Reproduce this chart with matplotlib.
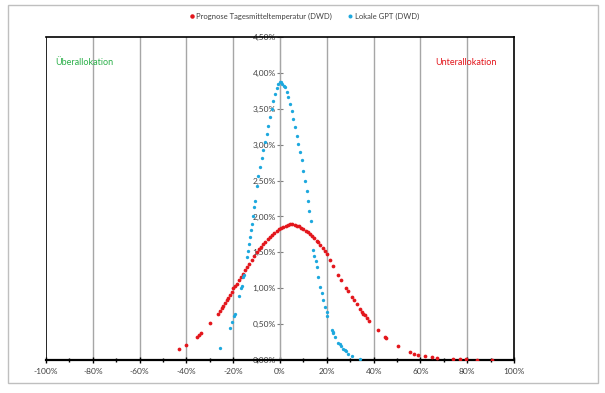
import matplotlib
matplotlib.use("Agg")
import matplotlib.pyplot as plt
from matplotlib.patches import Rectangle
from matplotlib.ticker import MultipleLocator, FuncFormatter

plt.rcParams['font.family'] = ['Lato', 'DejaVu Sans']

# Data (percent deviation vs. share in percent)
red_x = [-43.0, -40.2, -35.6, -34.6, -33.8, -29.8, -26.6, -25.6, -24.9, -24.2,
         -23.5, -22.8, -22.1, -21.4, -20.7, -20.0, -19.2, -18.5, -17.4, -16.6,
         -15.7, -14.9, -14.0, -13.1, -12.1, -11.0, -10.0, -9.0, -8.1, -7.1,
         -6.2, -5.2, -4.3, -3.3, -2.4, -1.4, -0.5, 0.5, 1.4, 2.4,
         3.3, 4.3, 5.2, 6.2, 7.1, 8.1, 9.0, 10.0, 10.9, 11.9,
         12.8, 13.8, 14.7, 15.6, 16.4, 17.3, 18.2, 19.1, 20.0, 21.4,
         22.8, 24.9, 26.1, 28.2, 29.2, 30.6, 31.6, 32.8, 34.2, 35.0,
         35.6, 36.3, 37.0, 38.2, 41.8, 44.9, 45.4, 50.6, 55.6, 57.3,
         59.1, 62.0, 64.8, 67.0, 74.1, 76.9, 79.5, 84.3, 90.5]
red_y = [0.15, 0.21, 0.32, 0.35, 0.37, 0.51, 0.64, 0.68, 0.72, 0.75,
         0.79, 0.83, 0.87, 0.91, 0.95, 1.00, 1.03, 1.06, 1.11, 1.16,
         1.20, 1.25, 1.30, 1.34, 1.39, 1.45, 1.50, 1.54, 1.58, 1.62,
         1.65, 1.68, 1.71, 1.74, 1.77, 1.80, 1.82, 1.84, 1.85, 1.87,
         1.88, 1.89, 1.89, 1.88, 1.87, 1.86, 1.84, 1.82, 1.80, 1.78,
         1.76, 1.73, 1.70, 1.66, 1.64, 1.60, 1.56, 1.52, 1.48, 1.40,
         1.31, 1.18, 1.12, 1.01, 0.96, 0.88, 0.83, 0.78, 0.71, 0.67,
         0.64, 0.62, 0.59, 0.55, 0.42, 0.32, 0.30, 0.19, 0.11, 0.09,
         0.07, 0.05, 0.04, 0.03, 0.01, 0.01, 0.01, 0.005, 0.005]

blue_x = [-25.6, -21.2, -20.4, -19.7, -19.2, -17.4, -16.8, -16.4, -15.7, -15.4,
          -14.2, -13.8, -13.2, -12.8, -12.4, -12.0, -11.4, -11.0, -10.6, -10.0,
          -9.3, -8.5, -7.8, -7.1, -6.4, -5.7, -5.0, -4.3, -3.6, -2.9,
          -2.2, -1.4, -0.7, 0.0, 0.4, 1.0, 1.6, 2.1, 2.8, 3.5,
          4.2, 5.0, 5.7, 6.4, 7.1, 7.8, 8.5, 9.3, 10.0, 10.7,
          11.4, 12.1, 12.6, 13.1, 14.2, 14.6, 15.2, 15.7, 16.4, 17.1,
          17.8, 18.5, 19.2, 20.0, 20.2, 22.1, 22.5, 22.8, 23.5, 24.9,
          25.5, 26.1, 27.1, 27.6, 28.2, 29.2, 30.6, 34.2]
blue_y = [0.17, 0.45, 0.53, 0.61, 0.64, 0.89, 1.00, 1.03, 1.16, 1.19,
          1.44, 1.52, 1.62, 1.71, 1.81, 1.90, 2.01, 2.13, 2.22, 2.42,
          2.56, 2.69, 2.81, 2.92, 3.04, 3.15, 3.26, 3.38, 3.50, 3.61,
          3.71, 3.79, 3.84, 3.87, 3.87, 3.85, 3.82, 3.80, 3.73, 3.66,
          3.57, 3.47, 3.36, 3.24, 3.12, 3.01, 2.90, 2.78, 2.64, 2.50,
          2.36, 2.22, 2.08, 1.94, 1.53, 1.45, 1.38, 1.30, 1.16, 1.02,
          0.93, 0.83, 0.74, 0.67, 0.61, 0.42, 0.39, 0.37, 0.32, 0.24,
          0.22, 0.20, 0.16, 0.14, 0.13, 0.09, 0.055, 0.01]

red = '#e3161c'
blue = '#1da8de'
label_col = '#404040'

fig = plt.figure(figsize=(6.05, 3.93), dpi=100)
fig.patches.append(Rectangle((8 / 605, 10 / 393), 590 / 605, 378 / 393,
                             transform=fig.transFigure, fill=False,
                             edgecolor='#bfbfbf', linewidth=1))
ax = fig.add_axes([46 / 605, 33 / 393, 468 / 605, 323 / 393])

ax.plot(red_x, red_y, 'o', color=red, markersize=2.7, markeredgewidth=0,
        label='Prognose Tagesmitteltemperatur (DWD)', zorder=3)
ax.plot(blue_x, blue_y, 'o', color=blue, markersize=2.4, markeredgewidth=0,
        label='Lokale GPT (DWD)', zorder=3)

ax.set_xlim(-100, 100)
ax.set_ylim(0, 4.5)

# vertical gridlines every 20 %
for gx in range(-80, 100, 20):
    ax.axvline(gx, color='#a6a6a6', linewidth=1, zorder=1)

# y axis crosses at x = 0
ax.spines['left'].set_position(('data', 0))
ax.spines['left'].set_color('#a6a6a6')
ax.axvline(-100, color='black', linewidth=1.2, zorder=2)
for s in ['top', 'right']:
    ax.spines[s].set_color('black')
    ax.spines[s].set_linewidth(1.2)
ax.spines['bottom'].set_color('black')
ax.spines['bottom'].set_linewidth(1.6)

pct = lambda v, p: ('%.0f' % v) + '%'
pct2 = lambda v, p: ('%.2f' % v).replace('.', ',') + '%'
ax.xaxis.set_major_locator(MultipleLocator(20))
ax.xaxis.set_minor_locator(MultipleLocator(10))
ax.xaxis.set_major_formatter(FuncFormatter(pct))
ax.yaxis.set_major_locator(MultipleLocator(0.5))
ax.yaxis.set_major_formatter(FuncFormatter(pct2))
ax.tick_params(axis='x', which='major', direction='inout', length=5, width=1,
               labelsize=6, labelcolor=label_col, pad=3)
ax.tick_params(axis='x', which='minor', direction='inout', length=3, width=1)
ax.tick_params(axis='y', direction='inout', length=4, width=0.8,
               color='#808080', labelsize=6, labelcolor=label_col, pad=1)

ax.text(-96, 4.14, 'Überallokation', color='#2cb04a', fontsize=6.5,
        va='center', ha='left')
ax.text(92.5, 4.14, 'Unterallokation', color=red, fontsize=6.5,
        va='center', ha='right')

ax.legend(loc='center', bbox_to_anchor=(0.552, 1.063), ncol=2,
          frameon=False, fontsize=5.5, markerscale=1.2, handlelength=0.6,
          handletextpad=0.25, columnspacing=2.1, labelcolor=label_col,
          borderpad=0)

fig.savefig('out.png', dpi=100)
